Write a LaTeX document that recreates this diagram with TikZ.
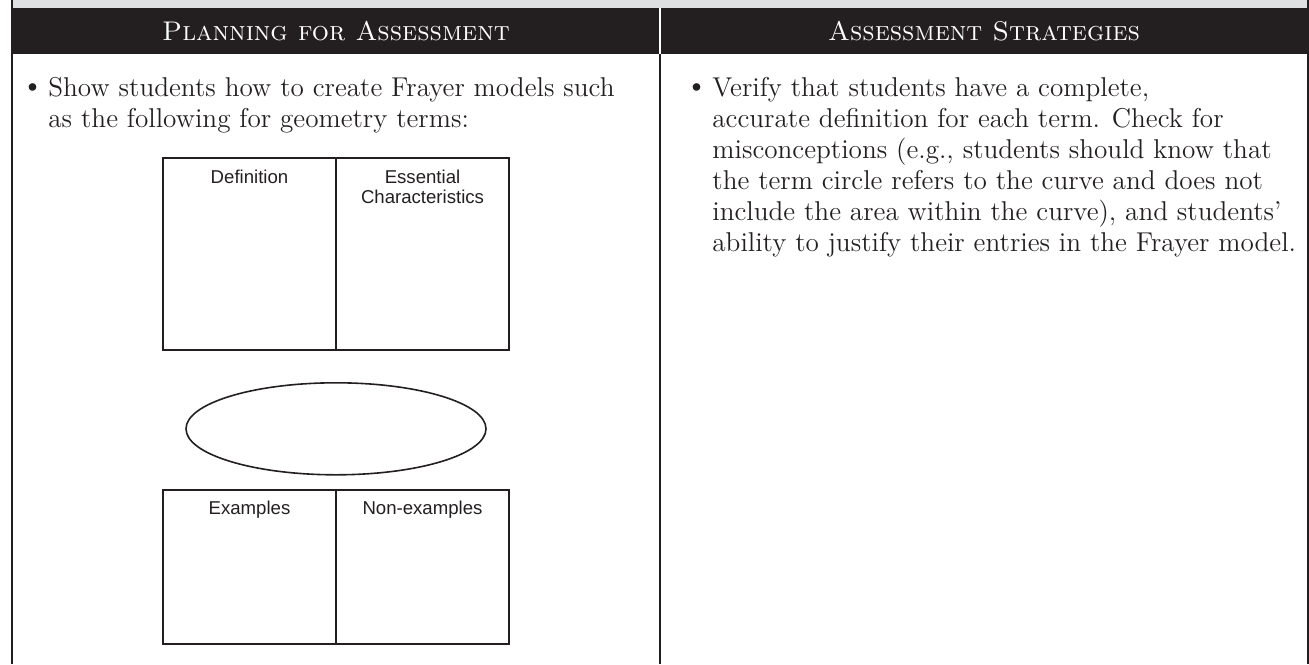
\documentclass[tikz,border=0pt]{standalone}
\usepackage{fontspec}
\setsansfont{Liberation Sans}
\usetikzlibrary{positioning, shapes.geometric}
\definecolor{bandgray}{HTML}{DFE0E1}
\definecolor{inkdark}{HTML}{231F20}
\tikzset{
  frame/.style={draw=inkdark, line width=1pt},
  headtext/.style={text=white, font=\fontsize{13.5}{16}\selectfont\scshape, inner sep=0pt},
  bodytext/.style={text=inkdark, font=\fontsize{13.6}{15.5}\selectfont, align=left, inner sep=0pt, anchor=north west},
  bullet/.style={text=inkdark, font=\fontsize{17}{17}\selectfont, inner sep=0pt, anchor=base west},
  cell/.style={draw=inkdark, line width=1.1pt, minimum width=86.5pt, minimum height=96pt, outer sep=0pt, inner sep=0pt},
  celltitle/.style={text=inkdark, font=\sffamily\fontsize{9.3}{10}\selectfont, align=center, inner sep=0pt},
}
\begin{document}
\begin{tikzpicture}[x=0.5pt, y=-0.5pt]
	\useasboundingbox (0,0) rectangle (1309,664);
	% header bands
	\fill[bandgray] (12,0) rectangle (1309,8);
	\fill[inkdark]  (12,8) rectangle (1309,54);
	\node[headtext] (plan)  at (336,31) {Planning for Assessment};
	\node[headtext] (strat) at (984,31) {Assessment Strategies};
	
	% column rules
	\draw[white, line width=1pt] (660,8) -- (660,54);
	\draw[frame] (12,0) -- (12,664);
	\draw[frame] (660,54) -- (660,664);
	\draw[frame] (1308,0) -- (1308,664);
	
	% left column
	\node[bullet] (bulA) at (20,96) {\textbullet};
	\node[bodytext] (planA) at (48,77) {Show students how to create Frayer models such\\as the following for geometry terms:};
	
	% Frayer model
	\node[cell]                  (def)  at (249.5,254) {};
	\node[cell, right=0pt of def] (ess)  {};
	\node[celltitle, below=5.7pt of def.north] (defT) {Definition};
	\node[celltitle, below=5.7pt of ess.north] (essT) {Essential\\Characteristics};
	
	\node[draw=inkdark, line width=0.8pt, ellipse, minimum width=150pt, minimum height=46pt, inner sep=0pt,
	      below=16pt of def.south east] (term) {};
	
	\node[cell, minimum height=77pt, below left=7pt and 0pt of term.south] (ex)    {};
	\node[cell, minimum height=77pt, right=0pt of ex]                    (nonex) {};
	\node[celltitle, below=5.7pt of ex.north]    (exT)    {Examples};
	\node[celltitle, below=5.7pt of nonex.north] (nonexT) {Non-examples};
	
	% right column
	\node[bullet] (bulB) at (684,96) {\textbullet};
	\node[bodytext] (stratA) at (712,77) {Verify that students have a complete,\\accurate definition for each term. Check for\\misconceptions (e.g., students should know that\\the term circle refers to the curve and does not\\include the area within the curve), and students’\\ability to justify their entries in the Frayer model.};
\end{tikzpicture}
\end{document}
